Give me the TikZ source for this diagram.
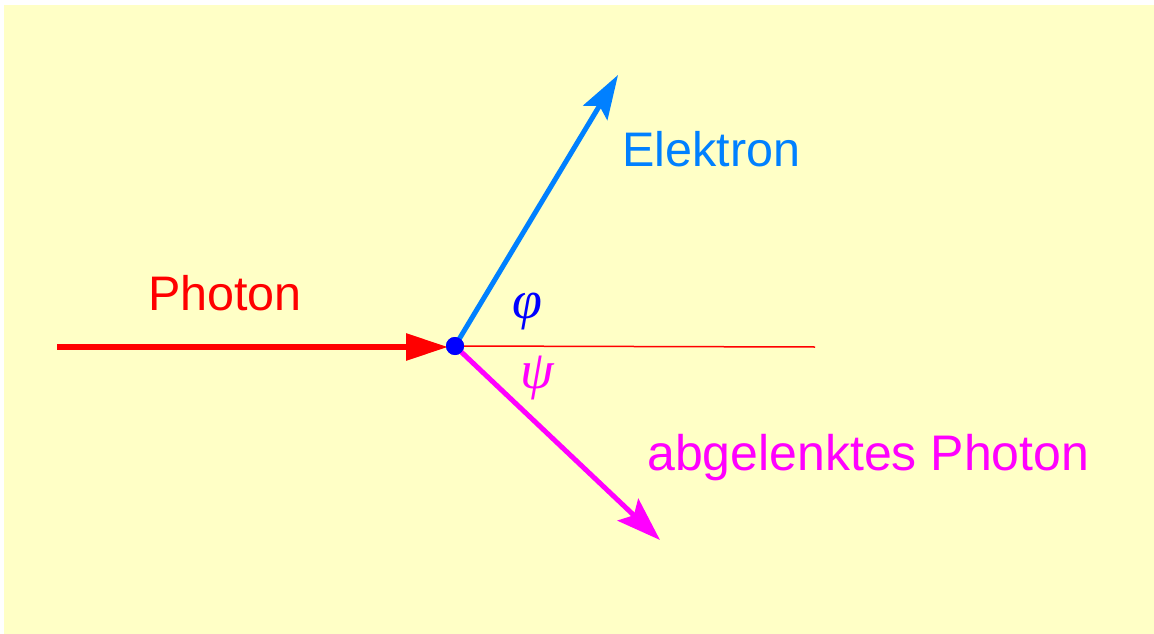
\documentclass[tikz,border=0pt]{standalone}
\usepackage{fontspec}
\setmainfont{Liberation Sans}
\newfontfamily\grkfont{Liberation Serif}
\usetikzlibrary{arrows.meta}
\definecolor{bg}{HTML}{FFFFC6}
\definecolor{eblue}{HTML}{0080FF}
\definecolor{pred}{HTML}{FF0000}
\definecolor{pmag}{HTML}{FF00FF}
\definecolor{dotblue}{HTML}{0000FF}
\tikzset{
  lbl/.style={font=\fontsize{48.5}{58}\selectfont, inner sep=0pt, anchor=base west},
  greek/.style={font=\grkfont\itshape\fontsize{54}{62}\selectfont, inner sep=0pt},
  photonline/.style={draw=pred, line width=6pt},
  thinline/.style={draw=pred, line width=1.5pt},
  eline/.style={draw=eblue, line width=5pt, -{Stealth[length=44pt,width=28pt,inset=8pt]}},
  mline/.style={draw=pmag, line width=5pt, -{Stealth[length=44pt,width=30pt,inset=8pt]}},
}
\begin{document}
\begin{tikzpicture}[x=1pt,y=-1pt]
\useasboundingbox (0,0) rectangle (1154,634);
\fill[bg] (4,5) rectangle (1154,634);
\coordinate (ps) at (57,347);
\coordinate (pt) at (448,347);
\coordinate (te) at (815,347);
\coordinate (et) at (618,75);
\coordinate (mt) at (660,540);
\node[circle, fill=dotblue, minimum size=18pt, inner sep=0pt] (c) at (455,346) {};
\draw[thinline] (c.center) -- (te);
\draw[photonline, -{Triangle[length=42pt,width=26pt]}] (ps) -- (pt);
\draw[eline] (c.center) -- (et);
\draw[mline] (c.center) -- (mt);
\node[circle, fill=dotblue, minimum size=18pt, inner sep=0pt] at (c) {};
\node[lbl, text=pred] (lp) at (148,310) {Photon};
\node[lbl, text=eblue] (le) at (622,166) {Elektron};
\node[lbl, text=pmag, font=\fontsize{50}{60}\selectfont] (la) at (647,470) {abgelenktes Photon};
\node[greek, text=dotblue] (phi) at (527,312) {φ};
\node[greek, text=pmag] (psi) at (537,378) {ψ};
\end{tikzpicture}
\end{document}
